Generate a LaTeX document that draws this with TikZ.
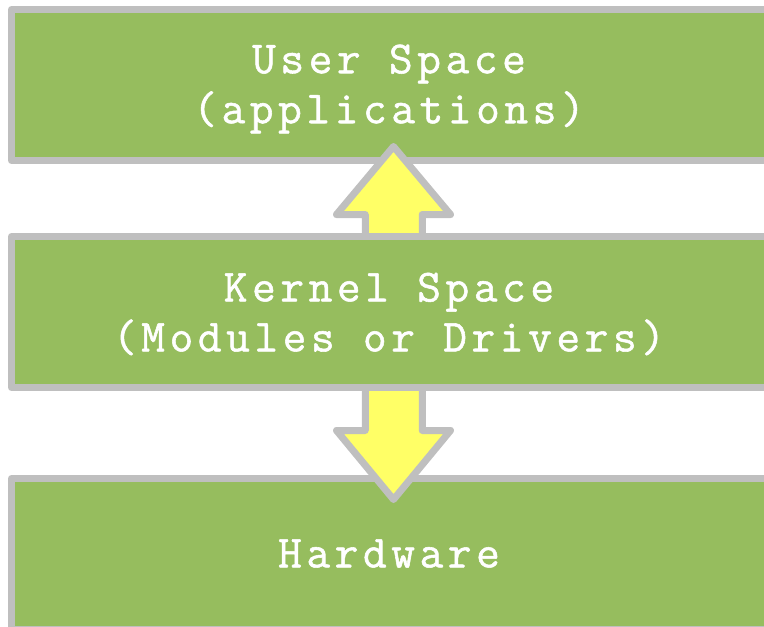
\documentclass[tikz,border=0pt]{standalone}
\usepackage{fontspec}
\setmonofont{Latin Modern Mono}[LetterSpace=10, FakeBold=1.2]
\definecolor{layergreen}{RGB}{150,189,94}
\definecolor{framegray}{RGB}{191,191,191}
\definecolor{flowyellow}{RGB}{255,255,102}
\tikzset{
  layerbox/.style={draw=framegray, fill=layergreen, line width=7pt, line join=round,
    rectangle, inner sep=0pt, outer sep=0pt, minimum width=788.5pt, minimum height=151pt},
  layertext/.style={text=white, align=center, inner sep=0pt,
    font=\ttfamily\fontsize{46}{50}\selectfont},
  blockarrow/.style={draw=framegray, fill=flowyellow, line width=7pt, line join=round}
}
\begin{document}
\begin{tikzpicture}[x=1pt, y=-1pt]
  \useasboundingbox (0,0) rectangle (764,627);
  \clip (0,0) rectangle (764,627);

  % outer layers
  \node[layerbox] (user) at (405.75,85) {};
  \node[layerbox] (hw) at (405.75,554) {};

  % arrow from kernel up to user space
  \coordinate (upTip) at (393.5,146.5);
  \draw[blockarrow] (upTip) -- (450.5,214.5) -- (422.25,214.5) -- (422.25,240)
    -- (365.25,240) -- (365.25,214.5) -- (336.5,214.5) -- cycle;

  % arrow from kernel down to hardware
  \coordinate (downTip) at (393.5,499.5);
  \draw[blockarrow] (365.25,384) -- (422.25,384) -- (422.25,430.5) -- (450.5,430.5)
    -- (downTip) -- (336.5,430.5) -- (365.25,430.5) -- cycle;

  % middle layer covers both arrow shafts
  \node[layerbox] (kernel) at (405.75,312) {};

  % labels
  \node[layertext] (usertext) at (389,89) {User Space\\(applications)};
  \node[layertext] (kerneltext) at (389,314) {Kernel Space\\(Modules or Drivers)};
  \node[layertext] (hwtext) at (389,553.5) {Hardware};
\end{tikzpicture}
\end{document}
